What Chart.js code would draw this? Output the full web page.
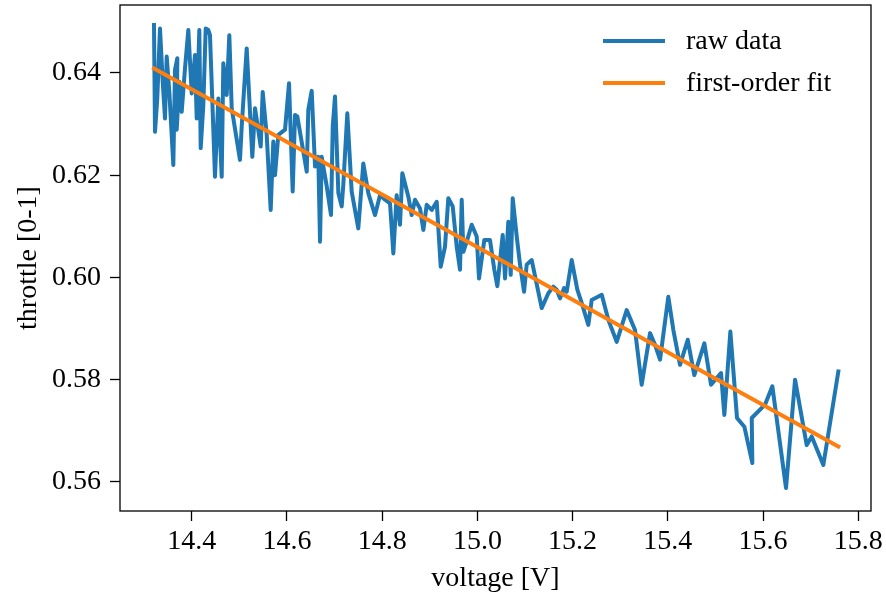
<!DOCTYPE html>
<html>
<head>
<meta charset="utf-8">
<script src="https://cdn.jsdelivr.net/npm/chart.js@4.4.1/dist/chart.umd.min.js"></script>
<style>
html, body { margin: 0; padding: 0; background: #fff; }
</style>
</head>
<body>
<canvas id="throttleChart" width="886" height="601"></canvas>
<script>
var rawVoltage = [
    14.3208, 14.3229, 14.3277, 14.3334, 14.3391, 14.3439, 14.3475, 14.3530, 14.3614, 14.3649,
    14.3698, 14.3685, 14.3740, 14.3790, 14.3859, 14.3929, 14.4000, 14.4069, 14.4105, 14.4160,
    14.4189, 14.4244, 14.4294, 14.4349, 14.4384, 14.4489, 14.4559, 14.4630, 14.4664, 14.4735,
    14.4790, 14.4840, 14.5014, 14.5050, 14.5155, 14.5273, 14.5330, 14.5449, 14.5491, 14.5575,
    14.5659, 14.5714, 14.5750, 14.5819, 14.5960, 14.6044, 14.6121, 14.6170, 14.6218, 14.6416,
    14.6449, 14.6520, 14.6590, 14.6659, 14.6695, 14.6730, 14.6836, 14.6926, 14.6962, 14.7010,
    14.7080, 14.7150, 14.7184, 14.7268, 14.7360, 14.7499, 14.7604, 14.7709, 14.7850, 14.7955,
    14.8060, 14.8165, 14.8235, 14.8305, 14.8375, 14.8424, 14.8550, 14.8620, 14.8690, 14.8795,
    14.8865, 14.8936, 14.9041, 14.9146, 14.9230, 14.9320, 14.9390, 14.9482, 14.9566, 14.9635,
    14.9671, 14.9705, 14.9776, 14.9881, 14.9986, 15.0034, 15.0145, 15.0265, 15.0356, 15.0419,
    15.0532, 15.0581, 15.0650, 15.0700, 15.0742, 15.0826, 15.0896, 15.0980, 15.1036, 15.1141,
    15.1351, 15.1490, 15.1595, 15.1666, 15.1736, 15.1820, 15.1876, 15.1981, 15.2099, 15.2191,
    15.2330, 15.2401, 15.2612, 15.2750, 15.2926, 15.3136, 15.3311, 15.3451, 15.3626, 15.3731,
    15.3836, 15.4010, 15.4116, 15.4256, 15.4418, 15.4556, 15.4767, 15.4907, 15.5117, 15.5187,
    15.5313, 15.5453, 15.5607, 15.5775, 15.5762, 15.6041, 15.6195, 15.6482, 15.6672, 15.6917,
    15.7022, 15.7266, 15.7581
];
var rawThrottle = [
    0.6494, 0.6285, 0.6350, 0.6487, 0.6383, 0.6311, 0.6432, 0.6363, 0.6220, 0.6406,
    0.6429, 0.6289, 0.6383, 0.6324, 0.6409, 0.6484, 0.6360, 0.6435, 0.6311, 0.6484,
    0.6253, 0.6337, 0.6487, 0.6484, 0.6474, 0.6197, 0.6350, 0.6197, 0.6419, 0.6357,
    0.6474, 0.6331, 0.6230, 0.6295, 0.6448, 0.6236, 0.6331, 0.6256, 0.6363, 0.6279,
    0.6132, 0.6266, 0.6200, 0.6279, 0.6289, 0.6380, 0.6168, 0.6318, 0.6315, 0.6207,
    0.6328, 0.6365, 0.6217, 0.6236, 0.6070, 0.6236, 0.6178, 0.6122, 0.6295, 0.6354,
    0.6165, 0.6139, 0.6181, 0.6321, 0.6168, 0.6096, 0.6223, 0.6165, 0.6122, 0.6161,
    0.6152, 0.6145, 0.6047, 0.6161, 0.6103, 0.6204, 0.6158, 0.6122, 0.6152, 0.6135,
    0.6093, 0.6142, 0.6132, 0.6148, 0.6021, 0.6060, 0.6155, 0.6139, 0.6060, 0.6015,
    0.6152, 0.6050, 0.6070, 0.6103, 0.6080, 0.5998, 0.6073, 0.6073, 0.6015, 0.5983,
    0.6083, 0.5998, 0.6109, 0.6005, 0.6155, 0.6080, 0.6025, 0.5972, 0.6025, 0.6034,
    0.5940, 0.5969, 0.5982, 0.5976, 0.5959, 0.5979, 0.5972, 0.6034, 0.5976, 0.5950,
    0.5907, 0.5956, 0.5966, 0.5917, 0.5874, 0.5936, 0.5897, 0.5790, 0.5891, 0.5868,
    0.5839, 0.5962, 0.5897, 0.5829, 0.5878, 0.5809, 0.5871, 0.5790, 0.5813, 0.5731,
    0.5894, 0.5725, 0.5708, 0.5637, 0.5725, 0.5751, 0.5787, 0.5588, 0.5800, 0.5672,
    0.5689, 0.5633, 0.5816
];
var fitVoltage = [14.3208, 15.7581];
var fitThrottle = [0.6409, 0.5669];
var xTicks = [14.4, 14.6, 14.8, 15.0, 15.2, 15.4, 15.6, 15.8];
var yTicks = [0.56, 0.58, 0.60, 0.62, 0.64];

var serif = '"Liberation Serif", "Times New Roman", serif';

function toPoints(xs, ys) {
    return xs.map(function (x, i) { return { x: x, y: ys[i] }; });
}

// box round the plot, like matplotlib's spines
var framePlugin = {
    id: 'frame',
    afterDatasetsDraw: function (chart) {
        var a = chart.chartArea, c = chart.ctx;
        c.save();
        c.strokeStyle = '#000';
        c.lineWidth = 1.3;
        c.strokeRect(a.left, a.top, a.right - a.left, a.bottom - a.top);
        c.restore();
    }
};

// legend in the upper right corner, inside the axes
var legendPlugin = {
    id: 'mplLegend',
    afterDraw: function (chart) {
        var a = chart.chartArea, c = chart.ctx;
        c.save();
        c.font = '28px ' + serif;
        c.textBaseline = 'middle';
        c.textAlign = 'left';
        chart.data.datasets.forEach(function (ds, i) {
            var y = a.top + 36 + i * 42;
            c.strokeStyle = ds.borderColor;
            c.lineWidth = 4;
            c.beginPath();
            c.moveTo(a.right - 268, y);
            c.lineTo(a.right - 206, y);
            c.stroke();
            c.fillStyle = '#000';
            c.fillText(ds.label, a.right - 185, y + 1);
        });
        c.restore();
    }
};

// fixed axis boxes, no extra room for overhanging labels
function fixBox(w, h) {
    return function (scale) {
        if (w) scale.width = w;
        if (h) scale.height = h;
        scale.paddingTop = 0;
        scale.paddingBottom = 0;
        scale.paddingLeft = 0;
        scale.paddingRight = 0;
    };
}

var ctx = document.getElementById('throttleChart').getContext('2d');
var throttleChart = new Chart(ctx, {
    type: 'line',
    data: {
        datasets: [{
            label: 'raw data',
            data: toPoints(rawVoltage, rawThrottle),
            borderColor: '#1f77b4',
            borderWidth: 4,
            order: 2
        }, {
            label: 'first-order fit',
            data: toPoints(fitVoltage, fitThrottle),
            borderColor: '#ff7f0e',
            borderWidth: 4,
            order: 1
        }]
    },
    options: {
        responsive: false,
        devicePixelRatio: 1,
        animation: false,
        events: [],
        layout: { padding: { top: 5, right: 15, left: 0, bottom: 0 } },
        elements: {
            point: { radius: 0 },
            line: { tension: 0, borderJoinStyle: 'round', borderCapStyle: 'square', fill: false }
        },
        plugins: {
            legend: { display: false },
            tooltip: { enabled: false }
        },
        scales: {
            x: {
                type: 'linear',
                min: 14.2494,
                max: 15.8267,
                afterBuildTicks: function (scale) {
                    scale.ticks = xTicks.map(function (v) { return { value: v }; });
                },
                afterFit: fixBox(0, 90),
                grid: { drawOnChartArea: false, drawTicks: true, tickLength: 10, tickWidth: 1.3, tickColor: '#000' },
                border: { display: false },
                ticks: {
                    color: '#000',
                    font: { family: serif, size: 28 },
                    padding: 4,
                    maxRotation: 0,
                    autoSkip: false,
                    callback: function (v) { return v.toFixed(1); }
                },
                title: {
                    display: true,
                    text: 'voltage [V]',
                    color: '#000',
                    font: { family: serif, size: 28 },
                    padding: { top: 0, bottom: 6 }
                }
            },
            y: {
                type: 'linear',
                min: 0.5543,
                max: 0.6533,
                afterBuildTicks: function (scale) {
                    scale.ticks = yTicks.map(function (v) { return { value: v }; });
                },
                afterFit: fixBox(120, 0),
                grid: { drawOnChartArea: false, drawTicks: true, tickLength: 10, tickWidth: 1.3, tickColor: '#000' },
                border: { display: false },
                ticks: {
                    color: '#000',
                    font: { family: serif, size: 28 },
                    padding: 9,
                    autoSkip: false,
                    callback: function (v) { return v.toFixed(2); }
                },
                title: {
                    display: true,
                    text: 'throttle [0-1]',
                    color: '#000',
                    font: { family: serif, size: 28 },
                    padding: { top: 12, bottom: 0 }
                }
            }
        }
    },
    plugins: [framePlugin, legendPlugin]
});
</script>
</body>
</html>
